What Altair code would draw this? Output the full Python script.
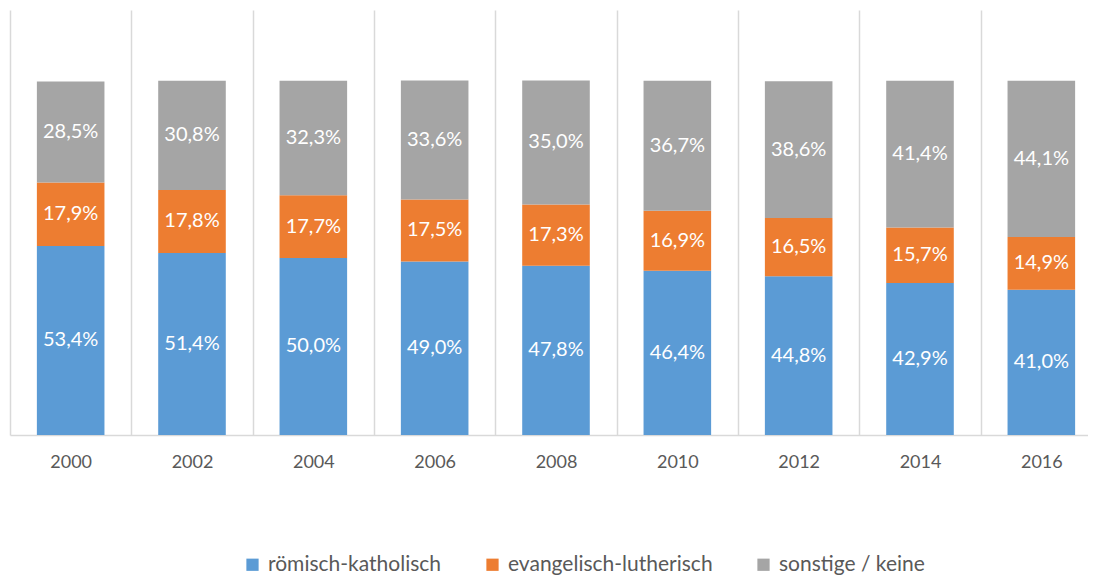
import altair as alt
import pandas as pd

years = ["2000", "2002", "2004", "2006", "2008", "2010", "2012", "2014", "2016"]
kath = [53.4, 51.4, 50.0, 49.0, 47.8, 46.4, 44.8, 42.9, 41.0]
ev = [17.9, 17.8, 17.7, 17.5, 17.3, 16.9, 16.5, 15.7, 14.9]
sonst = [28.5, 30.8, 32.3, 33.6, 35.0, 36.7, 38.6, 41.4, 44.1]
cats = ["römisch-katholisch", "evangelisch-lutherisch", "sonstige / keine"]
colors = ["#5B9BD5", "#ED7D31", "#A5A5A5"]

rows = []
for i, yr in enumerate(years):
    for k, (c, vals) in enumerate(zip(cats, [kath, ev, sonst])):
        rows.append({"year": yr, "cat": c, "order": k, "value": vals[i]})
df = pd.DataFrame(rows)

base = alt.Chart(df).transform_stack(
    stack="value", as_=["y0", "y1"], groupby=["year"], sort=[alt.SortField("order")]
).transform_calculate(
    mid="(datum.y0 + datum.y1) / 2",
    label="replace(format(datum.value, '.1f'), '.', ',') + '%'",
)

x = alt.X(
    "year:N",
    title=None,
    scale=alt.Scale(paddingInner=0, paddingOuter=0),
    axis=alt.Axis(
        labelAngle=0, ticks=False, grid=True, tickBand="extent",
        gridColor="#d9d9d9", gridWidth=1.5, domainColor="#d9d9d9", domainWidth=1.5,
        labelFont="Lato", labelFontSize=18, labelColor="#595959", labelPadding=18,
    ),
)
yscale = alt.Scale(domain=[0, 120])

bars = base.mark_bar(width=alt.RelativeBandSize(0.557)).encode(
    x=x,
    y=alt.Y("y0:Q", scale=yscale, axis=None),
    y2="y1:Q",
    color=alt.Color(
        "cat:N",
        scale=alt.Scale(domain=cats, range=colors),
        legend=alt.Legend(
            title=None, orient="none", legendX=232, legendY=544,
            direction="horizontal", symbolType="square", symbolSize=150,
            symbolStrokeWidth=0, labelFont="Lato", labelFontSize=21,
            labelColor="#595959", columnPadding=40, labelOffset=5, padding=0,
            labelLimit=400,
        ),
    ),
)

text = base.mark_text(font="Lato", fontSize=20, color="white").encode(
    x=x,
    y=alt.Y("mid:Q", scale=yscale, axis=None),
    text="label:N",
)

chart = (bars + text).properties(
    width=1092, height=425,
    padding={"left": 2, "top": 2, "right": -14, "bottom": 144},
    autosize=alt.AutoSizeParams(type="none"),
).configure_view(stroke=None)

chart.save("out.html", embed_options={"renderer": "svg", "actions": False})
